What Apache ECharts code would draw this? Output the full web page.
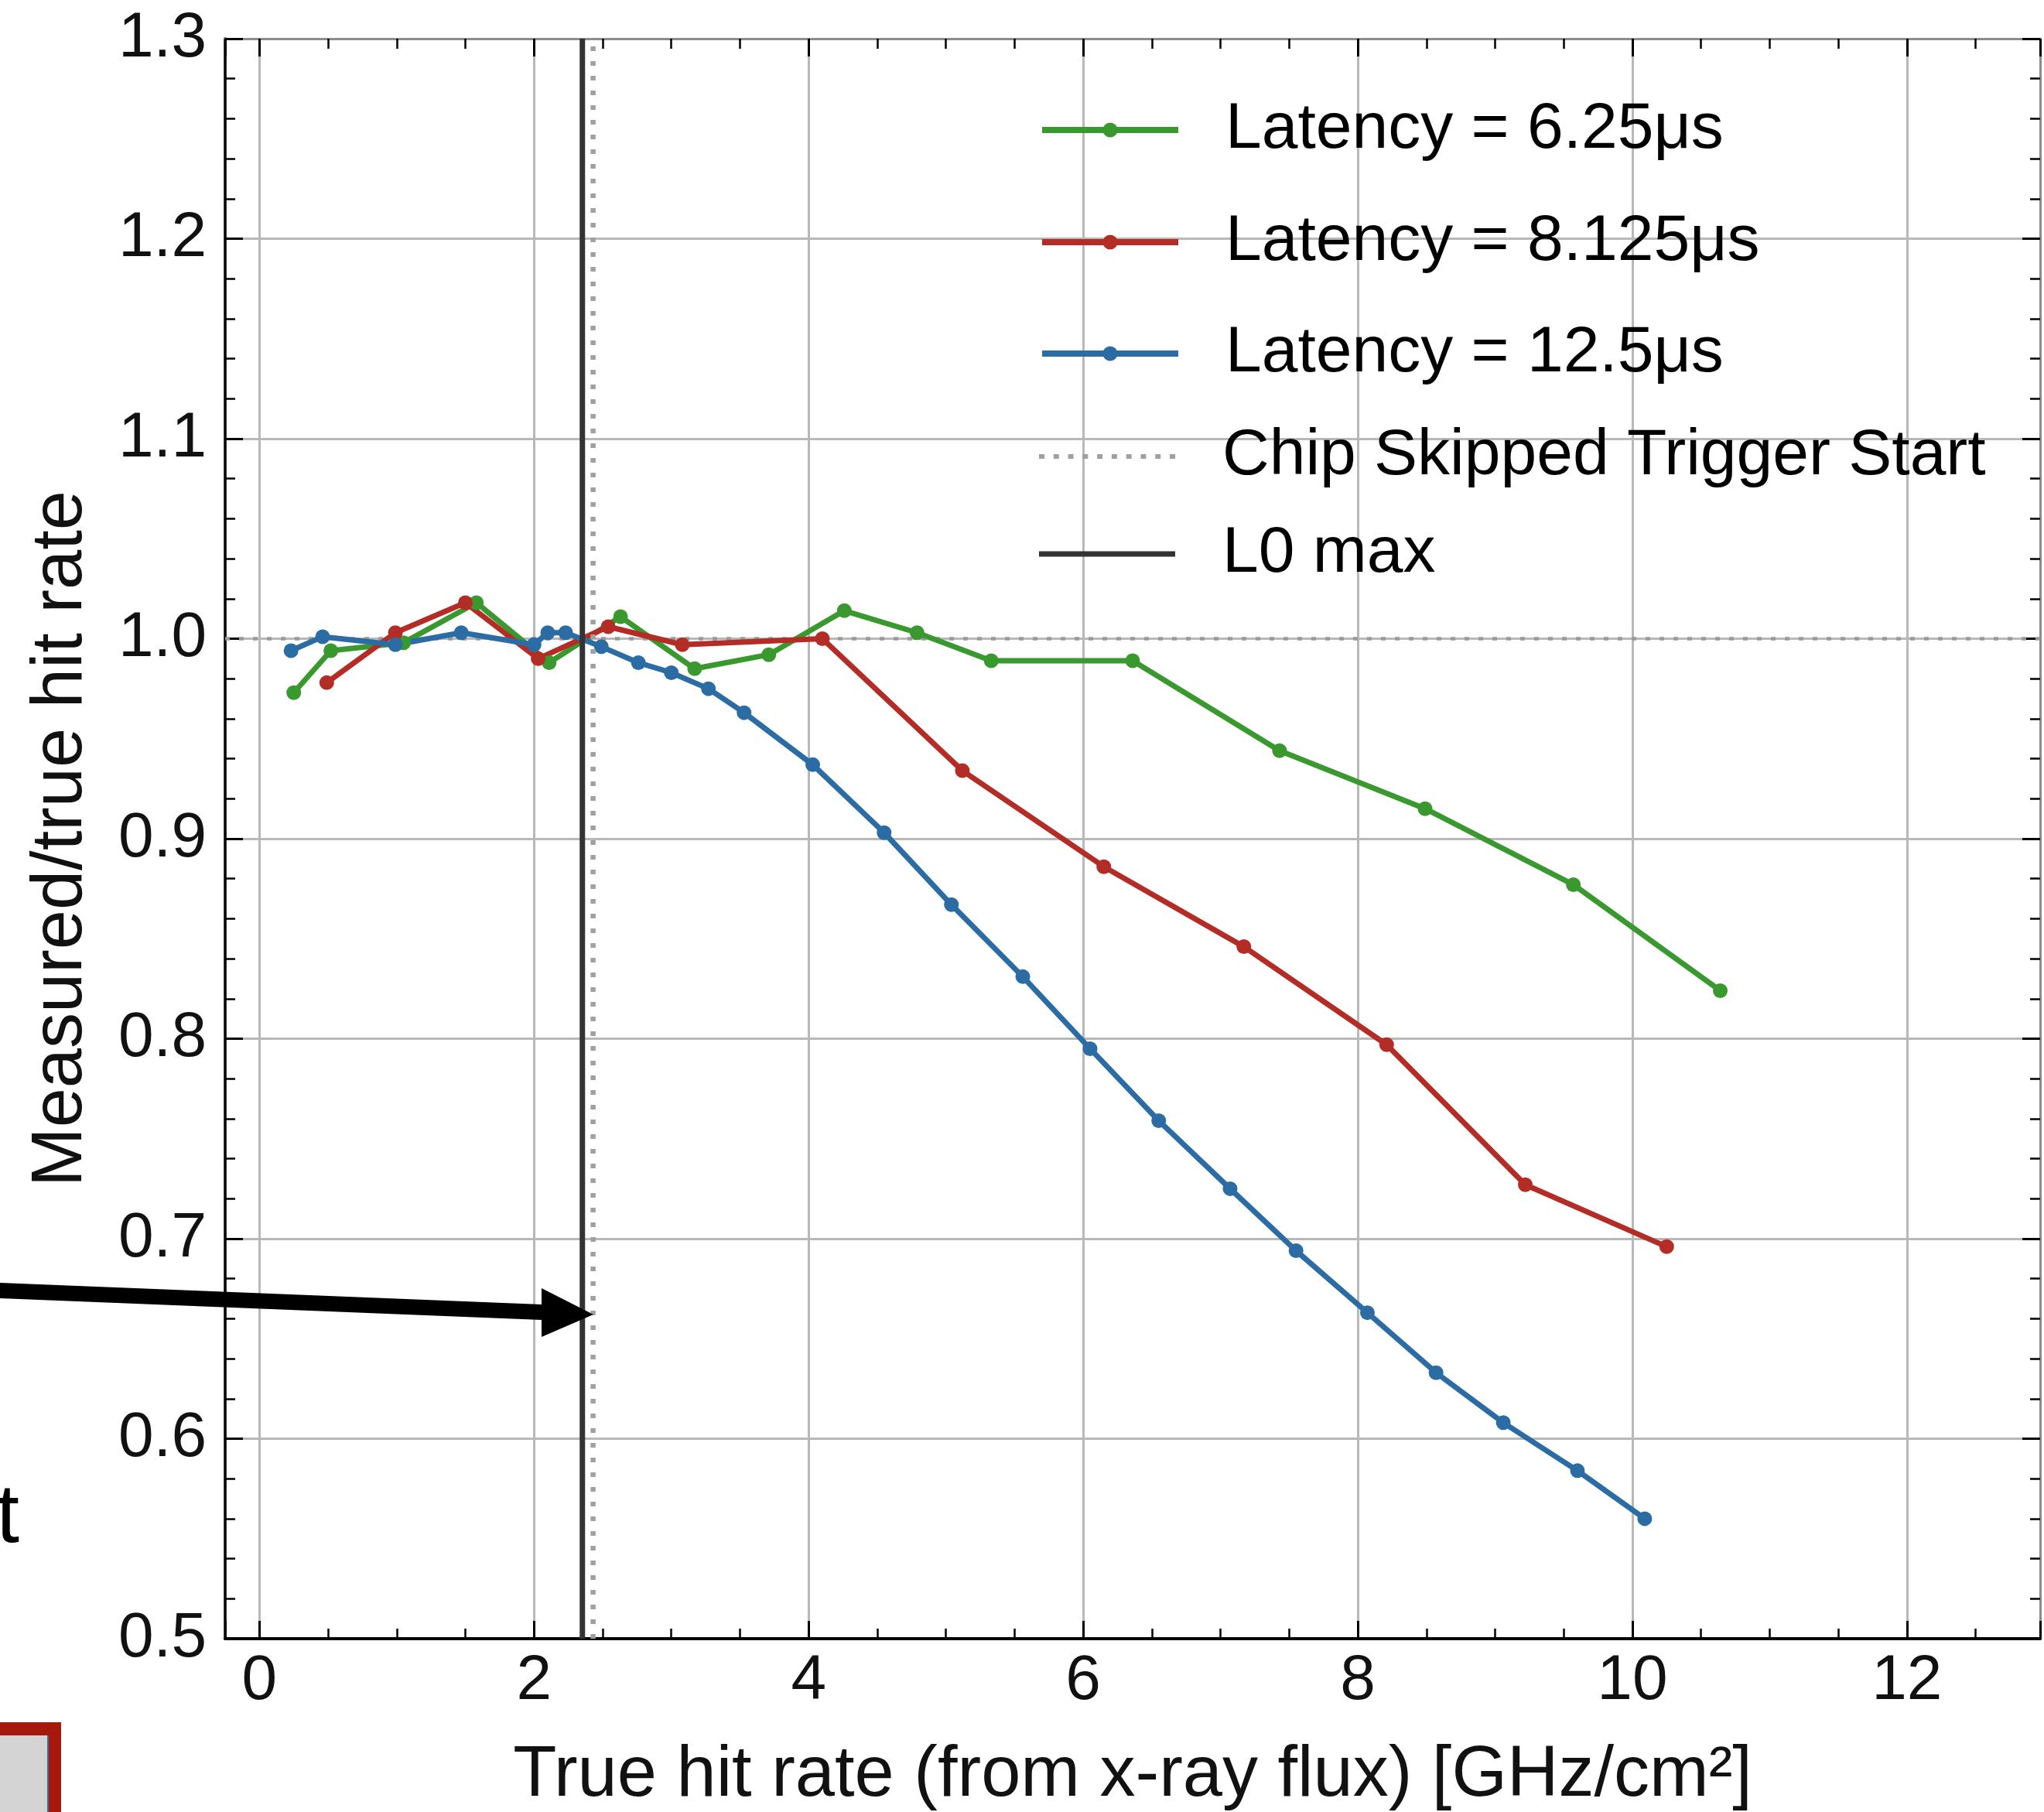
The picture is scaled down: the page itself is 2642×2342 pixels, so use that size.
<!DOCTYPE html>
<html>
<head>
<meta charset="utf-8">
<script src="https://cdn.jsdelivr.net/npm/echarts@6/dist/echarts.min.js"></script>
<style>
html,body{margin:0;padding:0;background:#fff;}
#chart{width:2642px;height:2342px;}
</style>
</head>
<body>
<div id="chart"></div>
<script>
// ---------------- data ----------------
const seriesNames = ['Latency = 6.25μs', 'Latency = 8.125μs', 'Latency = 12.5μs', 'Chip Skipped Trigger Start', 'L0 max'];

const xGreen = [0.25, 0.52, 1.05, 1.58, 2.11, 2.63, 3.17, 3.71, 4.26, 4.79, 5.33, 6.36, 7.43, 8.49, 9.57, 10.64];
const yGreen = [0.973, 0.994, 0.998, 1.018, 0.988, 1.011, 0.985, 0.992, 1.014, 1.003, 0.989, 0.989, 0.944, 0.915, 0.877, 0.824];

const xRed = [0.49, 0.99, 1.50, 2.03, 2.54, 3.08, 4.10, 5.12, 6.15, 7.17, 8.21, 9.22, 10.25];
const yRed = [0.978, 1.003, 1.018, 0.990, 1.006, 0.997, 1.000, 0.934, 0.886, 0.846, 0.797, 0.727, 0.696];

const xBlue = [0.23, 0.46, 0.99, 1.47, 2.00, 2.10, 2.23, 2.49, 2.76, 3.00, 3.27, 3.53, 4.03, 4.55, 5.04, 5.56, 6.05, 6.55, 7.07, 7.55, 8.07, 8.57, 9.06, 9.60, 10.09];
const yBlue = [0.994, 1.001, 0.997, 1.003, 0.997, 1.003, 1.003, 0.996, 0.988, 0.983, 0.975, 0.963, 0.937, 0.903, 0.867, 0.831, 0.795, 0.759, 0.725, 0.694, 0.663, 0.633, 0.608, 0.584, 0.560];

const chipSkipX = 2.43;   // Chip Skipped Trigger Start
const l0MaxX = 2.352;     // L0 max
const refRatio = 1.0;     // dotted reference line

const xTickLabels = ['0', '2', '4', '6', '8', '10', '12'];
const yTickLabels = ['0.5', '0.6', '0.7', '0.8', '0.9', '1.0', '1.1', '1.2', '1.3'];

const xMin = -0.25, xMax = 12.97;
const yMin = 0.5, yMax = 1.3;

// ---------------- styling ----------------
const FONT = "'Liberation Sans', Arial, Helvetica, sans-serif";
const colors = ['#39992f', '#b32d26', '#2a6ca3', '#a0a0a0', '#333333'];
const legendCenters = [168, 313, 457, 590, 716];
const LH = 90;

function pairs(xs, ys) { return xs.map((x, i) => [x, ys[i]]); }

// dotted legend icon path
let dotPath = 'path://';
for (let i = 0; i < 10; i++) {
  const x0 = (i * 18.8).toFixed(1);
  dotPath += 'M' + x0 + ' 0h7v6h-7z';
}

const tickStyle = { show: true, inside: true, length: 23, lineStyle: { color: '#000', width: 3 } };
const minorX = { show: true, splitNumber: 4, length: 13, lineStyle: { color: '#000', width: 2.5 } };
const minorY = { show: true, splitNumber: 5, length: 13, lineStyle: { color: '#000', width: 2.5 } };

const xLabelFmt = v => {
  const s = String(Math.round(v * 1000) / 1000);
  return xTickLabels.includes(s) ? s : '';
};
const yLabelFmt = v => {
  const s = (Math.round(v * 1000) / 1000).toFixed(1);
  return yTickLabels.includes(s) ? s : '';
};

const dataSeries = [
  [xGreen, yGreen],
  [xRed, yRed],
  [xBlue, yBlue]
].map((d, i) => ({
  name: seriesNames[i],
  type: 'line',
  xAxisIndex: 0,
  yAxisIndex: 0,
  data: pairs(d[0], d[1]),
  symbol: 'circle',
  symbolSize: 19,
  showSymbol: true,
  lineStyle: { width: 7, color: colors[i] },
  itemStyle: { color: colors[i] },
  z: 5,
  animation: false
}));

dataSeries[0].markLine = {
  silent: true,
  symbol: ['none', 'none'],
  label: { show: false },
  lineStyle: { type: [6, 12], color: '#999999', width: 4.5 },
  data: [{ yAxis: refRatio }],
  z: 2
};

const chipSeries = {
  name: seriesNames[3],
  type: 'line',
  data: [[chipSkipX, yMin], [chipSkipX, yMax]],
  symbol: 'none',
  lineStyle: { width: 6.5, color: colors[3], type: [6, 13] },
  itemStyle: { color: colors[3] },
  z: 6,
  animation: false
};
const l0Series = {
  name: seriesNames[4],
  type: 'line',
  data: [[l0MaxX, yMin], [l0MaxX, yMax]],
  symbol: 'none',
  lineStyle: { width: 7, color: colors[4] },
  itemStyle: { color: colors[4] },
  z: 7,
  animation: false
};

const legends = seriesNames.map((n, i) => {
  const L = {
    data: [n],
    left: 1343,
    top: legendCenters[i] - LH / 2,
    padding: 0,
    itemWidth: 176,
    itemHeight: i < 3 ? 24 : 7,
    selectedMode: false,
    textStyle: { fontSize: 84, fontFamily: FONT, color: '#000', lineHeight: LH, padding: [0, 0, 0, 56] },
    lineStyle: { width: 8 }
  };
  if (i === 3) L.icon = dotPath;
  if (i === 4) L.icon = 'rect';
  return L;
});

const option = {
  backgroundColor: '#ffffff',
  animation: false,
  grid: { left: 291, right: 5, top: 50, bottom: 224, containLabel: false, outerBoundsMode: 'none' },
  legend: legends,
  xAxis: [
    {
      type: 'value', position: 'bottom', min: xMin, max: xMax, splitNumber: 6,
      axisLine: { show: true, onZero: false, lineStyle: { color: '#000', width: 4 } },
      axisTick: tickStyle,
      minorTick: minorX,
      splitLine: { show: true, lineStyle: { color: '#b8b8b8', width: 3 } },
      axisLabel: { fontSize: 82, fontFamily: FONT, color: '#111', margin: 14, formatter: xLabelFmt },
      name: 'True hit rate (from x-ray flux) [GHz/cm²]',
      nameLocation: 'middle',
      nameGap: 132,
      nameTextStyle: { fontSize: 92, fontFamily: FONT, color: '#111', lineHeight: 92 }
    },
    {
      type: 'value', position: 'top', min: xMin, max: xMax, splitNumber: 6,
      axisLine: { show: true, onZero: false, lineStyle: { color: '#8c8c8c', width: 3 } },
      axisTick: tickStyle,
      minorTick: minorX,
      splitLine: { show: false },
      axisLabel: { show: false }
    }
  ],
  yAxis: [
    {
      type: 'value', position: 'left', min: yMin, max: yMax, interval: 0.1,
      axisLine: { show: true, onZero: false, lineStyle: { color: '#000', width: 3.5 } },
      axisTick: tickStyle,
      minorTick: minorY,
      splitLine: { show: true, lineStyle: { color: '#b8b8b8', width: 3 } },
      axisLabel: { fontSize: 82, fontFamily: FONT, color: '#111', margin: 24, formatter: yLabelFmt },
      name: 'Measured/true hit rate',
      nameLocation: 'middle',
      nameGap: 165,
      nameTextStyle: { fontSize: 92, fontFamily: FONT, color: '#111', lineHeight: 92 }
    },
    {
      type: 'value', position: 'right', min: yMin, max: yMax, interval: 0.1,
      axisLine: { show: true, onZero: false, lineStyle: { color: '#8c8c8c', width: 3 } },
      axisTick: tickStyle,
      minorTick: minorY,
      splitLine: { show: false },
      axisLabel: { show: false }
    }
  ],
  series: dataSeries.concat([chipSeries, l0Series]),
  graphic: [
    {
      type: 'rect', z: 100,
      shape: { x: 0, y: 2226, width: 79, height: 116 },
      style: { fill: '#a5180b' }
    },
    {
      type: 'rect', z: 101,
      shape: { x: 0, y: 2243, width: 62, height: 99 },
      style: { fill: '#d4d4d4' }
    },
    {
      type: 'line', z: 102,
      shape: { x1: 62, y1: 2243, x2: 62, y2: 2342 },
      style: { stroke: '#3a6fa0', lineWidth: 2 }
    },
    {
      type: 'text', z: 100,
      style: { text: 't', x: -5, y: 1963, fontSize: 108, fontFamily: FONT, fill: '#000', verticalAlign: 'middle' }
    },
    {
      type: 'polygon', z: 100,
      shape: { points: [[0, 1658], [700, 1686], [700, 1665], [767, 1699], [700, 1728], [700, 1706], [0, 1678]] },
      style: { fill: '#000' }
    }
  ]
};

const chart = echarts.init(document.getElementById('chart'), null, { renderer: 'canvas' });
chart.setOption(option);
</script>
</body>
</html>
